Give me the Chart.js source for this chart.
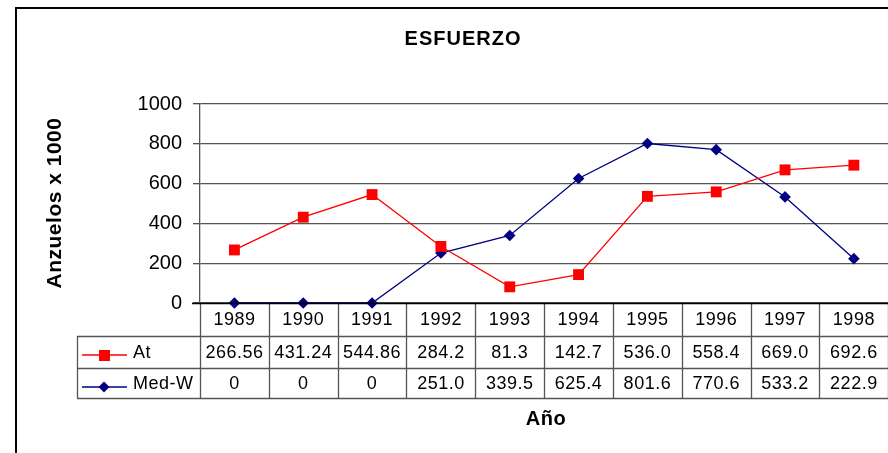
<!DOCTYPE html>
<html>
<head>
<meta charset="utf-8">
<script src="https://cdn.jsdelivr.net/npm/chart.js@4.4.0/dist/chart.umd.min.js"></script>
<style>
  html, body { margin: 0; padding: 0; background: #fff; overflow: hidden; width: 888px; height: 453px; }
  #wrap { width: 896px; height: 453px; }
</style>
</head>
<body>
<div id="wrap"><canvas id="esfuerzo" width="896" height="453"></canvas></div>
<script>
// data
const years = ["1989", "1990", "1991", "1992", "1993", "1994", "1995", "1996", "1997", "1998"];
const atValues = [266.56, 431.24, 544.86, 284.2, 81.3, 142.7, 536.0, 558.4, 669.0, 692.6];
const medValues = [0, 0, 0, 251.0, 339.5, 625.4, 801.6, 770.6, 533.2, 222.9];
// as printed in the data table
const atLabels = ["266.56", "431.24", "544.86", "284.2", "81.3", "142.7", "536.0", "558.4", "669.0", "692.6"];
const medLabels = ["0", "0", "0", "251.0", "339.5", "625.4", "801.6", "770.6", "533.2", "222.9"];
const yTicks = [0, 200, 400, 600, 800, 1000];

const FONT = '"Liberation Sans", Arial, sans-serif';
const RED = '#FF0000';
const NAVY = '#000080';
const LINE_GRAY = '#555555';

// draws the frame, titles and the excel style data table
const tablePlugin = {
  id: 'tablePlugin',
  afterDraw(chart) {
    const ctx = chart.ctx;
    const x = chart.scales.x;
    const area = chart.chartArea;
    const colW = (area.right - area.left) / years.length;
    const top = area.bottom;
    const row1 = top + 33, row2 = top + 65, row3 = top + 95;
    const legLeft = 77;

    ctx.save();
    // outer frame
    ctx.strokeStyle = '#000';
    ctx.lineWidth = 2;
    ctx.beginPath();
    ctx.moveTo(16, 460);
    ctx.lineTo(16, 8);
    ctx.lineTo(900, 8);
    ctx.stroke();

    // title
    ctx.fillStyle = '#000';
    ctx.textAlign = 'center';
    ctx.textBaseline = 'alphabetic';
    ctx.font = 'bold 20px ' + FONT;
    ctx.letterSpacing = '1px';
    ctx.fillText('ESFUERZO', 463, 45);

    // axis titles
    ctx.letterSpacing = '0.5px';
    ctx.font = 'bold 20px ' + FONT;
    ctx.fillText('Año', 546, 425);
    ctx.save();
    ctx.translate(61, 203);
    ctx.rotate(-Math.PI / 2);
    ctx.font = 'bold 21px ' + FONT;
    ctx.fillText('Anzuelos x 1000', 0, 0);
    ctx.restore();

    // table grid
    ctx.strokeStyle = LINE_GRAY;
    ctx.lineWidth = 1.3;
    ctx.beginPath();
    for (let i = 0; i <= years.length; i++) {
      const cx = Math.round(area.left + i * colW) + 0.5;
      ctx.moveTo(cx, top);
      ctx.lineTo(cx, row3);
    }
    [row1, row2, row3].forEach(r => {
      ctx.moveTo(legLeft, r + 0.5);
      ctx.lineTo(area.right, r + 0.5);
    });
    ctx.moveTo(legLeft + 0.5, row1);
    ctx.lineTo(legLeft + 0.5, row3);
    ctx.stroke();

    // x axis line
    ctx.strokeStyle = '#000';
    ctx.lineWidth = 1.4;
    ctx.beginPath();
    ctx.moveTo(192, top + 0.5);
    ctx.lineTo(area.right, top + 0.5);
    ctx.stroke();

    // table text
    ctx.fillStyle = '#000';
    ctx.font = '18px ' + FONT;
    ctx.letterSpacing = '0.5px';
    ctx.textBaseline = 'middle';
    ctx.textAlign = 'center';
    years.forEach((y, i) => {
      const cx = x.getPixelForValue(i);
      ctx.fillText(y, cx, top + 17);
      ctx.fillText(atLabels[i], cx, row1 + 17);
      ctx.fillText(medLabels[i], cx, row2 + 16);
    });

    // legend keys
    ctx.textAlign = 'left';
    ctx.fillText('At', 133, row1 + 17);
    ctx.fillText('Med-W', 133, row2 + 16);

    ctx.lineWidth = 1.3;
    ctx.strokeStyle = RED;
    ctx.beginPath();
    ctx.moveTo(82, row1 + 19);
    ctx.lineTo(127, row1 + 19);
    ctx.stroke();
    ctx.fillStyle = RED;
    ctx.fillRect(99, row1 + 14, 11, 11);

    ctx.strokeStyle = NAVY;
    ctx.beginPath();
    ctx.moveTo(82, row2 + 19);
    ctx.lineTo(127, row2 + 19);
    ctx.stroke();
    ctx.fillStyle = NAVY;
    ctx.beginPath();
    ctx.moveTo(104, row2 + 13.5);
    ctx.lineTo(109.5, row2 + 19);
    ctx.lineTo(104, row2 + 24.5);
    ctx.lineTo(98.5, row2 + 19);
    ctx.closePath();
    ctx.fill();

    ctx.restore();
  }
};

new Chart(document.getElementById("esfuerzo"), {
  type: 'line',
  data: {
    labels: years,
    datasets: [{
        label: "At",
        data: atValues,
        borderColor: RED,
        backgroundColor: RED,
        borderWidth: 1.3,
        pointStyle: 'rect',
        pointRadius: 7.7,
        pointHoverRadius: 7.7,
        pointBorderWidth: 0,
        fill: false,
        tension: 0
      }, {
        label: "Med-W",
        data: medValues,
        borderColor: NAVY,
        backgroundColor: NAVY,
        borderWidth: 1.3,
        pointStyle: 'rectRot',
        pointRadius: 5.8,
        pointHoverRadius: 5.8,
        pointBorderWidth: 0,
        fill: false,
        tension: 0
      }
    ]
  },
  options: {
    responsive: false,
    animation: false,
    clip: false,
    events: [],
    layout: {
      padding: { left: 0, right: 3, top: 104, bottom: 150 }
    },
    plugins: {
      legend: { display: false },
      title: { display: false },
      tooltip: { enabled: false }
    },
    scales: {
      x: {
        display: false,
        offset: true
      },
      y: {
        min: 0,
        max: 1000,
        afterBuildTicks: scale => { scale.ticks = yTicks.map(v => ({ value: v })); },
        afterFit: scale => { scale.width = 200; },
        ticks: {
          color: '#000',
          padding: 11,
          font: { family: FONT, size: 20 },
          callback: v => String(v)
        },
        grid: {
          color: LINE_GRAY,
          lineWidth: 1.3,
          tickLength: 7,
          tickColor: LINE_GRAY
        },
        border: { color: LINE_GRAY, width: 1.3 }
      }
    }
  },
  plugins: [tablePlugin]
});
</script>
</body>
</html>
